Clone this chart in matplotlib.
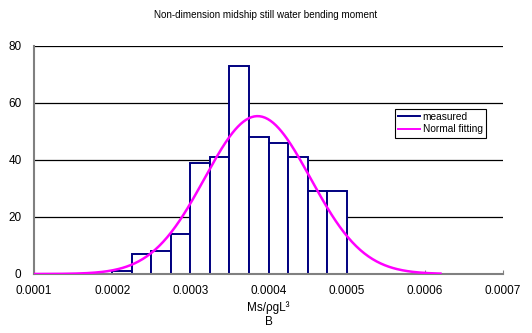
import numpy as np
import matplotlib
matplotlib.use("Agg")
import matplotlib.pyplot as plt

plt.rcParams['font.family'] = ['Liberation Sans', 'DejaVu Sans']

# histogram of measured values
bin_edges = [0.0002, 0.000225, 0.00025, 0.000275, 0.0003, 0.000325, 0.00035,
             0.000375, 0.0004, 0.000425, 0.00045, 0.000475, 0.0005]
counts = [1, 7, 8, 14, 39, 41, 73, 48, 46, 41, 29, 29]

# normal fitting parameters
fit_mean = 0.000386
fit_std = 0.0000677
fit_range = (0.0001, 0.00062)

x_ticks = [0.0001, 0.0002, 0.0003, 0.0004, 0.0005, 0.0006, 0.0007]
x_tick_labels = ['0.0001', '0.0002', '0.0003', '0.0004', '0.0005', '0.0006', '0.0007']
y_ticks = [0, 20, 40, 60, 80]

fig = plt.figure(figsize=(5.32, 3.33), dpi=100)
ax = fig.add_axes([0.0639, 0.1772, 0.8816, 0.6847])

# grid lines behind everything
for y in y_ticks[1:]:
    ax.axhline(y, color='black', lw=0.9, zorder=0)

edges = np.array(bin_edges)
widths = np.diff(edges)
ax.bar(edges[:-1], counts, width=widths, align='edge', facecolor='white',
       edgecolor='#000080', linewidth=1.4, zorder=2)

# fitted normal curve, scaled to counts per bin
xs = np.linspace(fit_range[0], fit_range[1], 300)
total = sum(counts)
bw = widths[0]
ys = total * bw / (fit_std * np.sqrt(2 * np.pi)) * np.exp(-0.5 * ((xs - fit_mean) / fit_std) ** 2)
ax.plot(xs, ys, color='#FF00FF', lw=1.8, zorder=3)

ax.set_xlim(0.0001, 0.0007)
ax.set_ylim(0, 80)
ax.set_xticks(x_ticks)
ax.set_xticklabels(x_tick_labels)
ax.set_yticks(y_ticks)
ax.tick_params(axis='x', direction='in', length=3, color='#808080', labelsize=8.5, pad=8)
ax.tick_params(axis='y', length=0, labelsize=8.5, pad=9)

for s in ['top', 'right']:
    ax.spines[s].set_visible(False)
for s in ['left', 'bottom']:
    ax.spines[s].set_color('#808080')
    ax.spines[s].set_linewidth(1.5)

ax.set_xlabel('Ms/\u03c1gL\u00b3\nB', fontsize=8.5, labelpad=3, linespacing=1.2)

fig.text(0.5, 0.955, 'Non-dimension midship still water bending moment',
         ha='center', va='center', fontsize=7.1)

h1, = ax.plot([], [], color='#000080', lw=1.4)
h2, = ax.plot([], [], color='#FF00FF', lw=1.4)
leg = ax.legend([h1, h2], ['measured', 'Normal fitting'], loc='upper left',
                bbox_to_anchor=(0.77, 0.724), fontsize=7.3, frameon=True,
                fancybox=False, edgecolor='black', framealpha=1,
                handlelength=2.2, handletextpad=0.2, borderpad=0.3,
                labelspacing=0.25, borderaxespad=0)
leg.get_frame().set_linewidth(0.8)

fig.savefig('out.png', dpi=100)
